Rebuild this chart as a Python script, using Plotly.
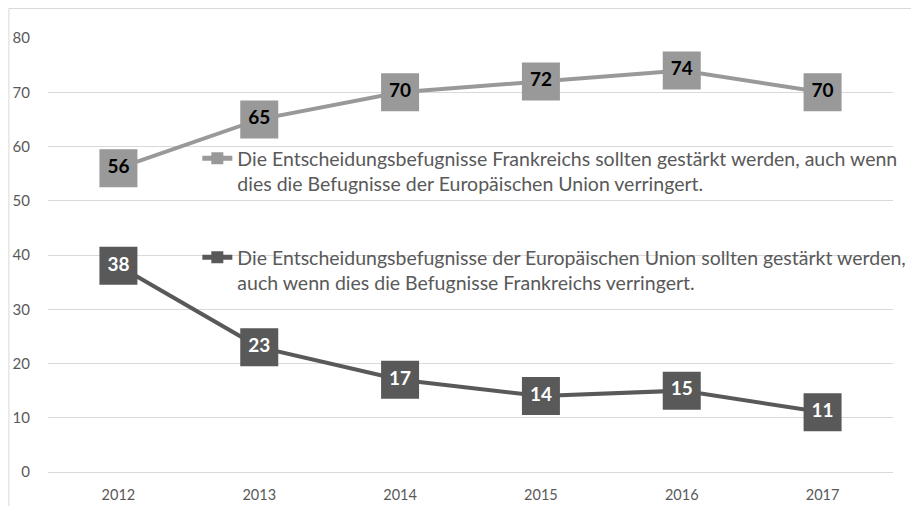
import plotly.graph_objects as go

years = ["2012", "2013", "2014", "2015", "2016", "2017"]
frankreich = [56, 65, 70, 72, 74, 70]
eu = [38, 23, 17, 14, 15, 11]
name_fr = "Die Entscheidungsbefugnisse Frankreichs sollten gestärkt werden, auch wenn<br>dies die Befugnisse der Europäischen Union verringert."
name_eu = "Die Entscheidungsbefugnisse der Europäischen Union sollten gestärkt werden,<br>auch wenn dies die Befugnisse Frankreichs verringert."
y_ticks = [0, 10, 20, 30, 40, 50, 60, 70, 80]

FONT = "Lato, Carlito, Calibri, sans-serif"
LIGHT = "#999999"
DARK = "#595959"

fig = go.Figure()
fig.add_trace(go.Scatter(
    x=years, y=frankreich, name=name_fr, mode="lines+markers+text",
    line=dict(color=LIGHT, width=4),
    marker=dict(symbol="square", size=38, color=LIGHT),
    text=[str(v) for v in frankreich], textposition="middle center",
    textfont=dict(family=FONT, size=19, color="#000000", weight="bold"),
    cliponaxis=False, legend="legend",
))
fig.add_trace(go.Scatter(
    x=years, y=eu, name=name_eu, mode="lines+markers+text",
    line=dict(color=DARK, width=4),
    marker=dict(symbol="square", size=38, color=DARK),
    text=[str(v) for v in eu], textposition="middle center",
    textfont=dict(family=FONT, size=19, color="#ffffff", weight="bold"),
    cliponaxis=False, legend="legend2",
))

# figure sits at an 8px page offset inside the 919x506 window
W, H = 911, 498
L, R, T, B = 39.6, 26, 30, 34
pw, ph = W - L - R, H - T - B

def px(x):
    return (x - L) / pw

def py(y):
    return (H - B - y) / ph

legend_common = dict(
    xanchor="left", yanchor="top", bgcolor="rgba(0,0,0,0)",
    font=dict(family=FONT, size=19.5, color=DARK), valign="top",
    itemsizing="constant", tracegroupgap=0,
)

fig.update_layout(
    width=W, height=H,
    margin=dict(l=L, r=R, t=T, b=B, autoexpand=False),
    paper_bgcolor="white", plot_bgcolor="white",
    font=dict(family=FONT, color=DARK),
    showlegend=True,
    legend=dict(x=px(189), y=py(131), **legend_common),
    legend2=dict(x=px(189), y=py(230), **legend_common),
    xaxis=dict(
        type="category", range=[-0.5, len(years) - 0.5],
        showgrid=False, showline=False, zeroline=False,
        tickfont=dict(family=FONT, size=14.5, color=DARK), ticks="",
        ticklabelstandoff=12, automargin=False,
    ),
    yaxis=dict(
        range=[0, 80], tickvals=y_ticks, showgrid=True, gridcolor="#d9d9d9",
        gridwidth=1, zeroline=True, zerolinecolor="#d9d9d9", zerolinewidth=1,
        showline=False, ticks="", tickfont=dict(family=FONT, size=15, color=DARK),
        ticklabelstandoff=17, automargin=False,
    ),
    shapes=[dict(
        type="rect", xref="paper", yref="paper",
        x0=px(0.5), x1=px(W + 10), y0=py(H + 10), y1=py(0.5),
        line=dict(color="#d9d9d9", width=1), fillcolor="rgba(0,0,0,0)", layer="below",
    )],
)

fig.write_html("out.html")
